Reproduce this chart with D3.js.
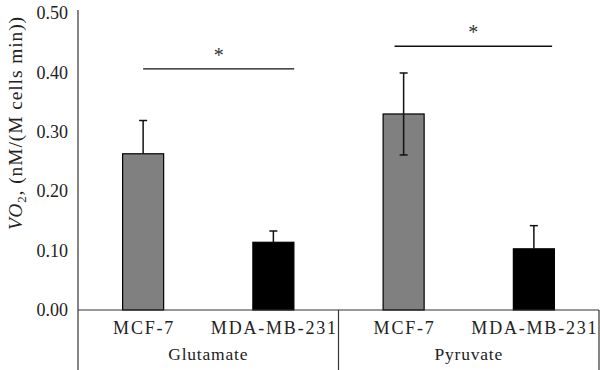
<!DOCTYPE html>
<html>
<head>
<meta charset="utf-8">
<script src="https://cdn.jsdelivr.net/npm/d3@7"></script>
<style>
  body { margin: 0; background: #fff; }
  svg { display: block; font-family: "Liberation Serif", "DejaVu Serif", serif; }
</style>
</head>
<body>
<svg id="chart" width="600" height="370"></svg>
<script>
// data
var groups = ["Glutamate", "Pyruvate"];
var cells = ["MCF-7", "MDA-MB-231"];
var values = [0.263, 0.114, 0.330, 0.103];
var errPlus = [0.056, 0.019, 0.069, 0.039];
var errMinus = [0, 0, 0.069, 0];
var barColors = ["#808080", "#000000", "#808080", "#000000"];
var yTicks = [0, 0.1, 0.2, 0.3, 0.4, 0.5];
// significance bars: start/end in category units, height in axis units
var sigFrom = [0.5, 2.43];
var sigTo = [1.66, 3.64];
var sigLevel = [0.406, 0.444];

var svg = d3.select("#chart");
var left = 78, right = 599, zeroY = 310;

var y = d3.scaleLinear().domain([0, 0.5]).range([zeroY, 13]);
var pos = d3.scaleLinear().domain([0, 4]).range([left, right]);
var x = d3.scaleBand().domain(d3.range(4)).range([left, right]).paddingInner(0.685).paddingOuter(0.3425);

// y axis
var yAxis = d3.axisLeft(y).tickValues(yTicks).tickFormat(d3.format(".2f")).tickSize(0).tickPadding(10);
var gy = svg.append("g").attr("transform", "translate(" + left + ",0)").call(yAxis);
gy.select(".domain").remove();
gy.selectAll("text").attr("font-size", 18).attr("fill", "#222").attr("font-family", "Liberation Serif");

svg.append("line").attr("x1", left).attr("x2", left).attr("y1", 10).attr("y2", 370)
  .attr("stroke", "#333").attr("stroke-width", 1.2);

// bars
svg.append("g").selectAll("rect").data(values).enter().append("rect")
  .attr("x", function (d, i) { return x(i); })
  .attr("width", x.bandwidth())
  .attr("y", function (d) { return y(d); })
  .attr("height", function (d) { return zeroY - y(d); })
  .attr("fill", function (d, i) { return barColors[i]; })
  .attr("stroke", "#000").attr("stroke-width", 1.2);

// error bars
var eb = svg.append("g").attr("stroke", "#111").attr("stroke-width", 1.5);
values.forEach(function (v, i) {
  var cx = x(i) + x.bandwidth() / 2;
  var top = y(v + errPlus[i]), bot = y(v - errMinus[i]);
  eb.append("line").attr("x1", cx).attr("x2", cx).attr("y1", top).attr("y2", bot);
  eb.append("line").attr("x1", cx - 4).attr("x2", cx + 4).attr("y1", top).attr("y2", top);
  if (errMinus[i] > 0) {
    eb.append("line").attr("x1", cx - 4).attr("x2", cx + 4).attr("y1", bot).attr("y2", bot);
  }
});

// category axis box
svg.append("line").attr("x1", left).attr("x2", right).attr("y1", zeroY).attr("y2", zeroY)
  .attr("stroke", "#333").attr("stroke-width", 1.2);
[2, 4].forEach(function (k) {
  svg.append("line").attr("x1", pos(k)).attr("x2", pos(k)).attr("y1", zeroY).attr("y2", 370)
    .attr("stroke", "#333").attr("stroke-width", 1.2);
});

svg.append("g").selectAll("text").data(d3.range(4)).enter().append("text")
  .attr("x", function (i) { return pos(i + 0.5) + 1; })
  .attr("y", 334)
  .attr("text-anchor", "middle")
  .attr("font-size", 18).attr("letter-spacing", 1.8).attr("fill", "#222")
  .text(function (i) { return cells[i % 2]; });

svg.append("g").selectAll("text").data(groups).enter().append("text")
  .attr("x", function (d, i) { return pos(i * 2 + 1); })
  .attr("y", 360)
  .attr("text-anchor", "middle")
  .attr("font-size", 17.5).attr("letter-spacing", 0.8).attr("fill", "#222")
  .text(function (d) { return d; });

// significance
sigLevel.forEach(function (lv, i) {
  svg.append("line").attr("x1", pos(sigFrom[i])).attr("x2", pos(sigTo[i]))
    .attr("y1", y(lv)).attr("y2", y(lv)).attr("stroke", "#111").attr("stroke-width", 1.3);
  svg.append("text").attr("x", (pos(sigFrom[i]) + pos(sigTo[i])) / 2).attr("y", y(lv) - 7)
    .attr("text-anchor", "middle").attr("font-size", 20).attr("fill", "#333").text("*");
});

// y axis title
var t = svg.append("text").attr("transform", "translate(22,123) rotate(-90)")
  .attr("text-anchor", "middle").attr("font-size", 19.5).attr("letter-spacing", 0.9).attr("fill", "#222");
t.append("tspan").attr("font-style", "italic").text("VO");
t.append("tspan").attr("font-size", 13).attr("dy", 4).text("2");
t.append("tspan").attr("dy", -4).text(", (nM/(M cells min))");
</script>
</body>
</html>
